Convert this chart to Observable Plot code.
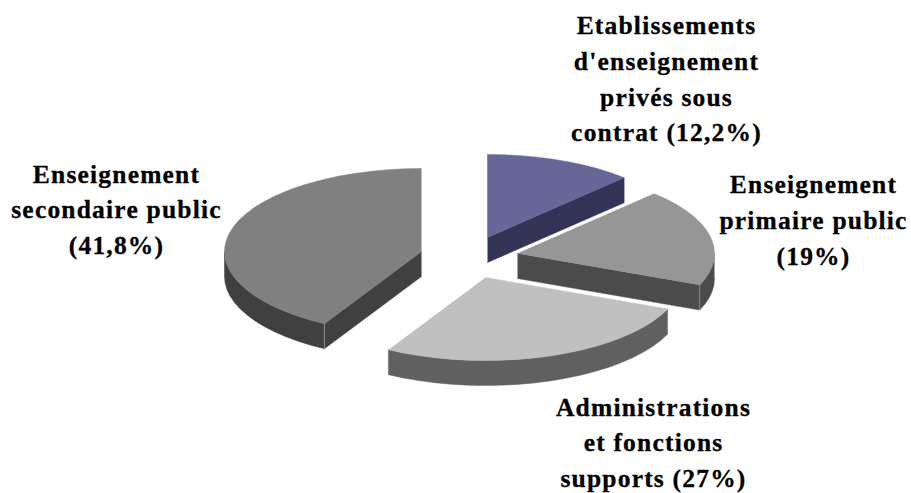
<!DOCTYPE html>
<html>
<head>
<meta charset="utf-8">
<script src="https://cdn.jsdelivr.net/npm/d3@7"></script>
<script src="https://cdn.jsdelivr.net/npm/@observablehq/plot@0.6"></script>
<style>
html,body{margin:0;padding:0;background:#fff;}
svg text{letter-spacing:1.2px;}
</style>
</head>
<body>
<div id="chart"></div>
<script>
// Data, clockwise from twelve o'clock
const categories = [
  "Etablissements\nd'enseignement\nprivés sous\ncontrat (12,2%)",
  "Enseignement\nprimaire public\n(19%)",
  "Administrations\net fonctions\nsupports (27%)",
  "Enseignement\nsecondaire public\n(41,8%)"
];
const shares = [12.2, 19, 27, 41.8];

// Styles
const topColors = ["#666699", "#969696", "#c0c0c0", "#808080"];
const wallColors = ["#333355", "#4b4b4b", "#606060", "#404040"];

// Layout of the exploded, tilted pie (in picture units)
const apexX = [487, 517, 485, 421];
const apexY = [237, 253, 277, 251];
const labelX = [666, 813, 653, 116];
const labelY = [76, 217, 439.5, 206.5];
const rx = 197, ry = 83, depth = 25;

const total = d3.sum(shares);
const rows = [];
const corners = [];
function addPiece(key, color, pts) {
  pts.forEach(([x, y]) => rows.push({key, color, x, y}));
}
function range(a, b) {
  const n = Math.max(1, Math.ceil((b - a) / (Math.PI / 36)));
  return d3.range(n + 1).map(i => a + (b - a) * i / n);
}
let acc = 0;
const slices = shares.map((s, i) => {
  const a0 = acc / total * 2 * Math.PI;
  acc += s;
  return {i, a0, a1: acc / total * 2 * Math.PI};
});
for (const {i, a0, a1} of slices) {
  const cx = apexX[i], cy = apexY[i];
  const px = a => cx + rx * Math.sin(a), py = a => cy - ry * Math.cos(a);
  const addCorner = (key, a) => {
    corners.push({key, x: px(a), y: py(a)}, {key, x: px(a), y: py(a) + depth});
  };
  // radial walls
  if (Math.sin(a1) > 1e-6) {
    addPiece(`w${i}e`, wallColors[i], [[cx, cy], [px(a1), py(a1)], [px(a1), py(a1) + depth], [cx, cy + depth]]);
  }
  if (Math.sin(a0) < -1e-6) {
    addPiece(`w${i}s`, wallColors[i], [[cx, cy], [px(a0), py(a0)], [px(a0), py(a0) + depth], [cx, cy + depth]]);
  }
  // rim wall: the part of the rim facing the viewer
  const lo = Math.max(a0, Math.PI / 2), hi = Math.min(a1, 3 * Math.PI / 2);
  if (hi > lo) {
    const arc = range(lo, hi);
    addPiece(`w${i}r`, wallColors[i], [
      ...arc.map(a => [px(a), py(a)]),
      ...arc.slice().reverse().map(a => [px(a), py(a) + depth])
    ]);
    if (a1 === hi && Math.sin(a1) > 0) addCorner(`c${i}e`, a1);
    if (a0 === lo && Math.sin(a0) < 0) addCorner(`c${i}s`, a0);
  }
  // top face
  addPiece(`t${i}`, topColors[i], [[cx, cy], ...range(a0, a1).map(a => [px(a), py(a)])]);
}

const labels = categories.map((text, i) => ({text, x: labelX[i], y: labelY[i]}));

const chart = Plot.plot({
  width: 911,
  height: 493,
  margin: 0,
  x: {domain: [0, 911], range: [0, 911], axis: null},
  y: {domain: [0, 493], range: [0, 493], axis: null},
  color: {type: "identity"},
  style: {background: "#fff"},
  marks: [
    Plot.line(rows, {x: "x", y: "y", z: "key", fill: "color", stroke: "color", strokeWidth: 0.5, curve: "linear"}),
    Plot.line(corners, {x: "x", y: "y", z: "key", stroke: "#fff", strokeOpacity: 0.3, strokeWidth: 1, curve: "linear"}),
    Plot.text(labels, {
      x: "x", y: "y", text: "text",
      fontFamily: "Liberation Serif", fontWeight: "bold", fontSize: 25.5,
      lineHeight: 1.4, fill: "#000", stroke: "#000", strokeWidth: 0.3,
      textAnchor: "middle", lineAnchor: "middle"
    })
  ]
});
document.getElementById("chart").appendChild(chart);
</script>
</body>
</html>
